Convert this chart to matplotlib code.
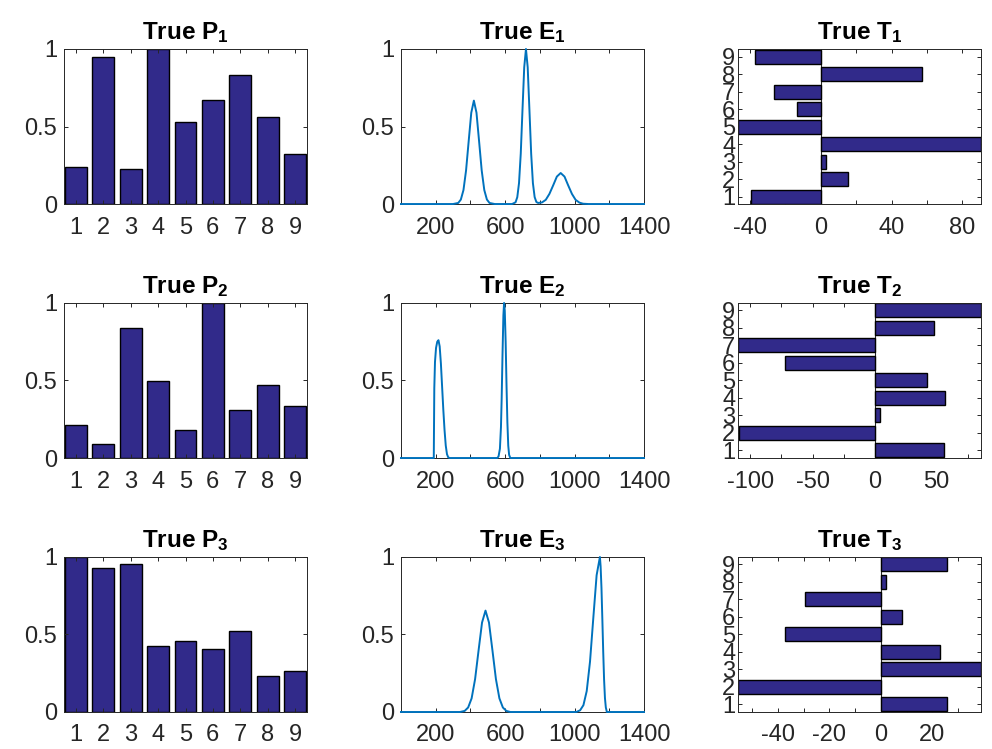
import matplotlib
matplotlib.use('Agg')
import matplotlib.pyplot as plt
from matplotlib import rcParams

rcParams['font.family'] = 'Liberation Sans'
rcParams['font.size'] = 17
rcParams['mathtext.fontset'] = 'custom'
rcParams['mathtext.rm'] = 'Liberation Sans'
rcParams['mathtext.bf'] = 'Liberation Sans:bold'
rcParams['mathtext.default'] = 'bf'

# bar heights of the three P panels (positions 1..9)
positions = [1, 2, 3, 4, 5, 6, 7, 8, 9]
p1 = [0.242, 0.946, 0.225, 1.0, 0.532, 0.670, 0.833, 0.564, 0.324]
p2 = [0.216, 0.092, 0.837, 0.499, 0.180, 1.0, 0.310, 0.469, 0.338]
p3 = [1.0, 0.927, 0.957, 0.427, 0.455, 0.405, 0.524, 0.231, 0.265]

# spectra of the three E panels
e1_x = [0, 300, 330, 345, 360, 375, 390, 405, 420, 435, 450, 465, 480, 495, 510, 540,
        640, 660, 670, 680, 690, 700, 710, 720, 730, 740, 750, 760, 770, 780, 790,
        812, 834, 855, 877, 898, 920, 942, 963, 985, 1006, 1028, 1049, 1080, 1400]
e1_y = [0, 0, 0.007, 0.029, 0.090, 0.217, 0.405, 0.589, 0.667, 0.589, 0.405, 0.217, 0.090, 0.029, 0.007, 0,
        0, 0.011, 0.044, 0.135, 0.325, 0.607, 0.882, 1.0, 0.882, 0.607, 0.325, 0.135, 0.045, 0.013, 0.007,
        0.010, 0.027, 0.065, 0.121, 0.177, 0.200, 0.177, 0.121, 0.065, 0.027, 0.009, 0.002, 0, 0]

e2_x = [0, 189, 192, 196, 202, 209, 216, 223, 230, 237, 244, 251, 258, 265, 272, 280,
        555, 562, 570, 576, 580, 585, 590, 594, 598, 603, 608, 613, 618, 623, 630, 1400]
e2_y = [0, 0, 0.45, 0.62, 0.71, 0.75, 0.76, 0.72, 0.61, 0.46, 0.31, 0.18, 0.08, 0.025, 0.005, 0,
        0, 0.01, 0.06, 0.2, 0.38, 0.67, 0.92, 1.0, 0.95, 0.75, 0.47, 0.23, 0.08, 0.02, 0, 0]

e3_x = [0, 340, 367, 387, 407, 427, 447, 467, 487, 507, 527, 547, 567, 587, 607, 630,
        1010, 1032, 1051, 1070, 1089, 1108, 1127, 1146, 1150, 1155, 1160, 1165, 1170, 1175, 1180, 1186, 1400]
e3_y = [0, 0, 0.007, 0.029, 0.088, 0.212, 0.397, 0.577, 0.654, 0.577, 0.397, 0.212, 0.088, 0.029, 0.007, 0,
        0, 0.011, 0.044, 0.135, 0.325, 0.607, 0.882, 1.0, 0.94, 0.80, 0.60, 0.39, 0.21, 0.09, 0.03, 0, 0]

# horizontal bar lengths of the three T panels
t1 = [-39.4, 15.6, 3.2, 90.6, -46.7, -13.3, -26.6, 57.4, -37.0]
t2 = [55.9, -109.0, 4.3, 56.4, 42.2, -71.9, -110.0, 47.9, 85.8]
t3 = [25.7, -55.5, 39.0, 23.0, -37.4, 8.3, -29.3, 1.9, 25.8]

# (minor tick step, labelled ticks) for the T panels
t_ticks = [(20, [-40, 0, 40, 80]), (25, [-100, -50, 0, 50]), (10, [-40, -20, 0, 20])]

bar_color = '#312a8a'
line_color = '#0072bd'
axis_color = '#262626'

col_left = [0.0645, 0.4042, 0.7440]
row_bottom = [0.7276, 0.3885, 0.0494]
ax_w = 0.245
ax_h = 0.207


def style_axes(ax):
    for s in ax.spines.values():
        s.set_color(axis_color)
        s.set_linewidth(0.7)
    ax.tick_params(direction='in', top=True, right=True, length=3, width=0.7,
                   color=axis_color, labelcolor=axis_color)
    ax.tick_params(axis='x', pad=9)
    ax.tick_params(axis='y', pad=5)


def tick_labels(ticks, shown):
    return [str(t) if t in shown else '' for t in ticks]


def graph_p(ax, values, idx):
    ax.bar(positions, values, width=0.8, color=bar_color, edgecolor='black', linewidth=1.0)
    ax.set_xlim(0.56, 9.44)
    ax.set_ylim(0, 1)
    ax.set_xticks(positions)
    ax.set_yticks([0, 0.5, 1])
    ax.set_yticklabels(['0', '0.5', '1'])
    ax.set_title('True P$_{%d}$' % idx, fontweight='bold', fontsize=17.5, pad=7)
    style_axes(ax)


def graph_e(ax, xs, ys, idx):
    ax.plot(xs, ys, color=line_color, linewidth=1.4, clip_on=False, zorder=3)
    ax.set_xlim(0, 1400)
    ax.set_ylim(0, 1)
    xt = [200, 400, 600, 800, 1000, 1200, 1400]
    ax.set_xticks(xt)
    ax.set_xticklabels(tick_labels(xt, [200, 600, 1000, 1400]))
    ax.set_yticks([0, 0.5, 1])
    ax.set_yticklabels(['0', '0.5', '1'])
    ax.set_title('True E$_{%d}$' % idx, fontweight='bold', fontsize=17.5, pad=7)
    style_axes(ax)


def graph_t(ax, values, idx, step, shown):
    ax.axvline(0, color=axis_color, linewidth=0.8, zorder=1)
    ax.barh(positions, values, height=0.8, color=bar_color, edgecolor='black', linewidth=1.0, zorder=2)
    lo, hi = min(values), max(values)
    ax.set_xlim(lo, hi)
    ax.set_ylim(0.57, 9.43)
    xt = list(range(shown[0] - step, int(hi) + 1, step))
    xt = [t for t in xt if lo <= t <= hi]
    ax.set_xticks(xt)
    ax.set_xticklabels(tick_labels(xt, shown))
    ax.set_yticks(positions)
    ax.set_title('True T$_{%d}$' % idx, fontweight='bold', fontsize=17.5, pad=7)
    style_axes(ax)
    ax.tick_params(axis='y', pad=2)


fig = plt.figure(figsize=(9.92, 7.49), dpi=100)

p_data = [p1, p2, p3]
e_data = [(e1_x, e1_y), (e2_x, e2_y), (e3_x, e3_y)]
t_data = [t1, t2, t3]

for r in range(3):
    ax = fig.add_axes([col_left[0], row_bottom[r], ax_w, ax_h])
    graph_p(ax, p_data[r], r + 1)
    ax = fig.add_axes([col_left[1], row_bottom[r], ax_w, ax_h])
    graph_e(ax, e_data[r][0], e_data[r][1], r + 1)
    ax = fig.add_axes([col_left[2], row_bottom[r], ax_w, ax_h])
    graph_t(ax, t_data[r], r + 1, t_ticks[r][0], t_ticks[r][1])

fig.savefig('out.png', dpi=100)
